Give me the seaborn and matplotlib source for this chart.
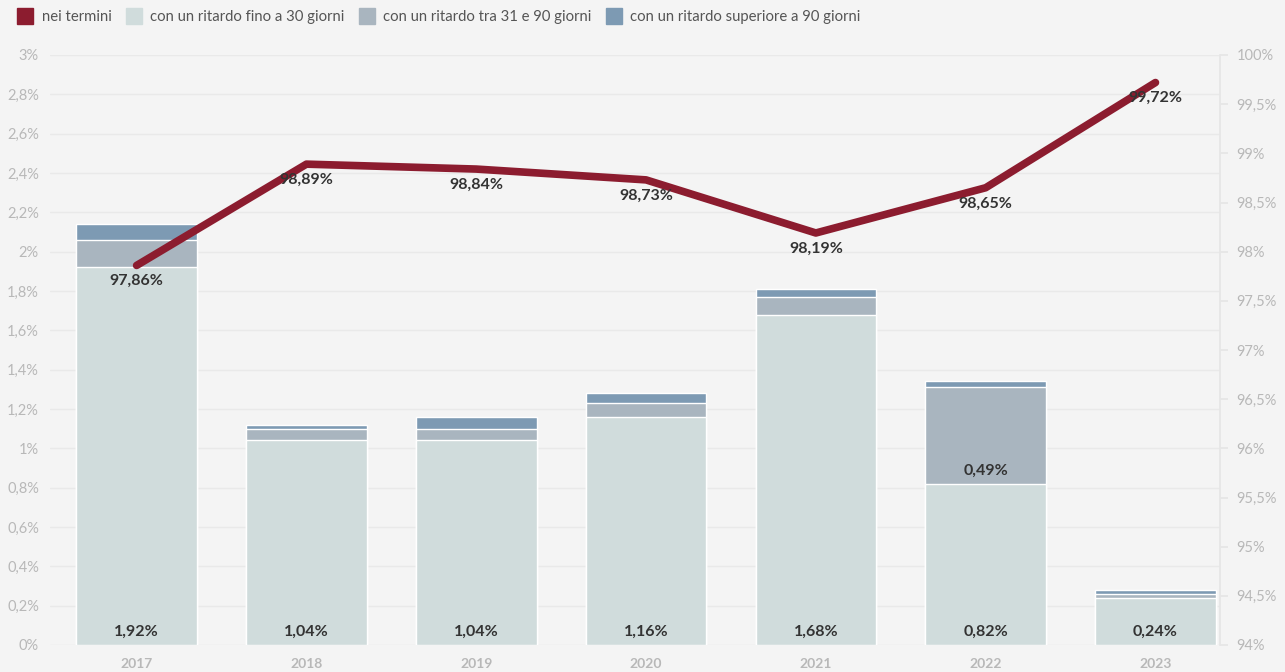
import numpy as np
import pandas as pd
import seaborn as sns
import matplotlib.pyplot as plt
from matplotlib.lines import Line2D
from matplotlib.ticker import FixedLocator

years = ["2017", "2018", "2019", "2020", "2021", "2022", "2023"]
fino_30 = [1.92, 1.04, 1.04, 1.16, 1.68, 0.82, 0.24]
tra_31_90 = [0.14, 0.06, 0.06, 0.07, 0.09, 0.49, 0.02]
oltre_90 = [0.08, 0.02, 0.06, 0.05, 0.04, 0.03, 0.02]
nei_termini = [97.86, 98.89, 98.84, 98.73, 98.19, 98.65, 99.72]

c_line = "#8c1c2f"
c_light = "#d0dcdc"
c_mid = "#a9b5bf"
c_dark = "#7d9ab3"
bg = "#f4f4f4"
tick_col = "#b8b8b8"

df = pd.DataFrame({"anno": years, "fino": fino_30, "tra": tra_31_90, "oltre": oltre_90,
                   "termini": nei_termini})
df["cum2"] = df["fino"] + df["tra"]
df["cum3"] = df["cum2"] + df["oltre"]

sns.set_theme(style="white")
plt.rcParams["font.family"] = ["Lato", "DejaVu Sans"]

fig = plt.figure(figsize=(12.85, 6.72), dpi=100, facecolor=bg)
ax = fig.add_axes([50 / 1285, 27 / 672, 1170 / 1285, 590 / 672])
ax.set_facecolor(bg)

# stacked bars drawn as cumulative overlays
for col, color in [("cum3", c_dark), ("cum2", c_mid), ("fino", c_light)]:
    sns.barplot(data=df, x="anno", y=col, color=color, width=0.71, saturation=1,
                edgecolor="white", linewidth=1.0, ax=ax, zorder=2)

ax.set_ylim(0, 3)
ax.set_xlim(-0.51, 6.38)
ax.yaxis.set_major_locator(FixedLocator(np.arange(0, 3.01, 0.2)))
ax.set_yticklabels([f"{v:.1f}".rstrip("0").rstrip(".").replace(".", ",") + "%"
                    for v in np.arange(0, 3.01, 0.2)])
ax.grid(axis="y", color="#e9e9e9", linewidth=1, zorder=0)
ax.set_axisbelow(True)
for s in ax.spines.values():
    s.set_visible(False)
ax.tick_params(axis="y", length=0, labelsize=10.5, colors=tick_col, pad=8)
ax.tick_params(axis="x", length=4, color="#e6e6e6", labelsize=10, colors=tick_col, pad=5)
for lab in ax.get_xticklabels():
    lab.set_fontweight("bold")
ax.set_xlabel("")
ax.set_ylabel("")

# bar labels
for i, v in enumerate(fino_30):
    ax.text(i, 0.065, f"{v:.2f}%".replace(".", ","), ha="center", va="center",
            fontsize=11.5, fontweight="bold", color="#333333", zorder=5)
ax.text(5, fino_30[5] + 0.065, f"{tra_31_90[5]:.2f}%".replace(".", ","), ha="center",
        va="center", fontsize=11.5, fontweight="bold", color="#333333", zorder=5)

# line on secondary axis
ax2 = ax.twinx()
sns.lineplot(x=np.arange(len(years)), y=nei_termini, ax=ax2, color=c_line, linewidth=5.5,
             solid_capstyle="round", solid_joinstyle="round", zorder=4)
ax2.set_ylim(94, 100)
ax2.yaxis.set_major_locator(FixedLocator(np.arange(94, 100.01, 0.5)))
ax2.set_yticklabels([f"{v:g}".replace(".", ",") + "%" for v in np.arange(94, 100.01, 0.5)])
for s in ax2.spines.values():
    s.set_visible(False)
ax2.spines["right"].set_visible(True)
ax2.spines["right"].set_color("#e6e6e6")
ax2.tick_params(axis="y", length=6, color="#e6e6e6", labelsize=10.5, colors=tick_col, pad=6)
for i, v in enumerate(nei_termini):
    ax2.text(i, v - 0.16, f"{v:.2f}%".replace(".", ","), ha="center", va="center",
             fontsize=11.5, fontweight="bold", color="#333333", zorder=6)

handles = [Line2D([], [], marker="s", linestyle="", markersize=11, color=c)
           for c in [c_line, c_light, c_mid, c_dark]]
labels = ["nei termini", "con un ritardo fino a 30 giorni", "con un ritardo tra 31 e 90 giorni",
          "con un ritardo superiore a 90 giorni"]
fig.legend(handles, labels, loc="upper left", bbox_to_anchor=(0.0, 1.0), ncol=4, frameon=False,
           fontsize=10.7, handletextpad=0.1, columnspacing=0.5, labelcolor="#555555",
           borderaxespad=0.3)

fig.savefig("out.png", dpi=100, facecolor=bg)
